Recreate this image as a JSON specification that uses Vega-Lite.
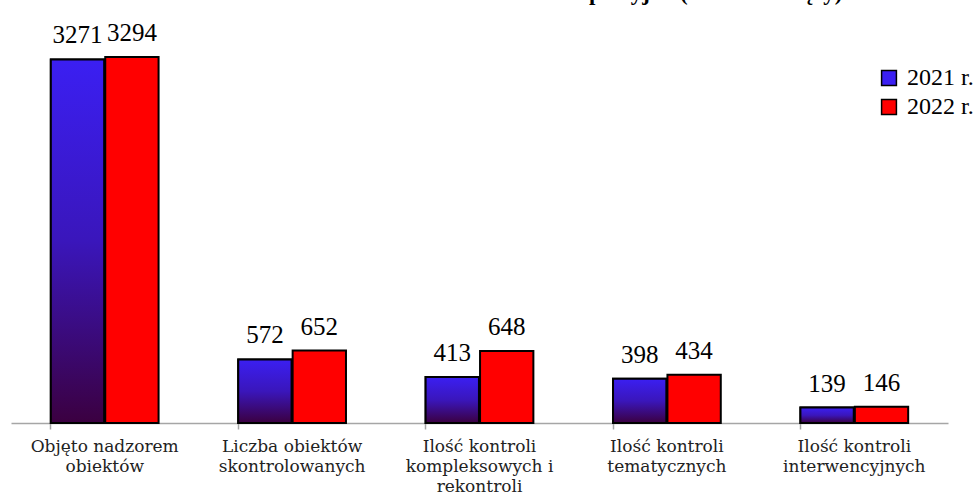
{
  "$schema": "https://vega.github.io/schema/vega-lite/v6.json",
  "autosize": {"type": "none"},
  "width": 937,
  "height": 389,
  "padding": {"left": 11, "right": 30, "top": 34, "bottom": 75},
  "background": "white",
  "config": {"view": {"stroke": null}},
  "title": {
    "text": "Działalność kontrolno-represyjna (nadzór bieżący)",
    "font": "Liberation Serif",
    "fontSize": 23,
    "fontWeight": "bold",
    "color": "black",
    "anchor": "middle",
    "baseline": "alphabetic",
    "offset": 0,
    "dx": 115,
    "dy": 2
  },
  "data": {
    "values": [
      {"category": "Objęto nadzorem|obiektów", "year": "2021 r.", "value": 3271},
      {"category": "Objęto nadzorem|obiektów", "year": "2022 r.", "value": 3294},
      {"category": "Liczba obiektów|skontrolowanych", "year": "2021 r.", "value": 572},
      {"category": "Liczba obiektów|skontrolowanych", "year": "2022 r.", "value": 652},
      {"category": "Ilość kontroli|kompleksowych i|rekontroli", "year": "2021 r.", "value": 413},
      {"category": "Ilość kontroli|kompleksowych i|rekontroli", "year": "2022 r.", "value": 648},
      {"category": "Ilość kontroli|tematycznych", "year": "2021 r.", "value": 398},
      {"category": "Ilość kontroli|tematycznych", "year": "2022 r.", "value": 434},
      {"category": "Ilość kontroli|interwencyjnych", "year": "2021 r.", "value": 139},
      {"category": "Ilość kontroli|interwencyjnych", "year": "2022 r.", "value": 146}
    ]
  },
  "encoding": {
    "x": {
      "field": "category",
      "type": "nominal",
      "sort": null,
      "scale": {"paddingInner": 0.425, "paddingOuter": 0.2125},
      "axis": {
        "title": null,
        "labelAngle": 0,
        "labelExpr": "split(datum.label, '|')",
        "labelFont": "DejaVu Serif",
        "labelFontSize": 17,
        "labelLineHeight": 20,
        "labelColor": "#222222",
        "labelPadding": 9,
        "labelLimit": 0,
        "domainColor": "#a6a6a6",
        "domainWidth": 1.5,
        "tickColor": "#a6a6a6",
        "tickSize": 6,
        "tickWidth": 1.5,
        "bandPosition": 0
      }
    },
    "xOffset": {"field": "year", "type": "nominal", "scale": {"domain": ["2021 r.", "2022 r."], "paddingInner": 0.02}},
    "y": {
      "field": "value",
      "type": "quantitative",
      "scale": {"domain": [0, 3500], "nice": false},
      "axis": null
    }
  },
  "layer": [
    {
      "mark": {"type": "bar", "stroke": "black", "strokeWidth": 2},
      "encoding": {
        "fill": {
          "field": "year",
          "type": "nominal",
          "scale": {"domain": ["2021 r.", "2022 r."], "range": ["#3b1ff2", "#ff0000"]},
          "legend": {
            "title": null,
            "orient": "none",
            "legendX": 866,
            "legendY": 32,
            "symbolType": "square",
            "symbolSize": 220,
            "symbolStrokeColor": "black",
            "symbolStrokeWidth": 1.5,
            "labelFont": "Liberation Serif",
            "labelFontSize": 24,
            "labelColor": "black",
            "labelOffset": 6,
            "rowPadding": 5,
            "symbolOpacity": 1
          }
        }
      }
    },
    {
      "transform": [{"filter": "datum.year == '2021 r.'"}],
      "mark": {"type": "bar", "stroke": "black", "strokeWidth": 2},
      "encoding": {
        "fill": {"value": {"gradient": "linear", "x1": 0, "y1": 0, "x2": 0, "y2": 1,
          "stops": [{"offset": 0, "color": "#3b1ff2"}, {"offset": 0.5, "color": "#3a16bb"}, {"offset": 1, "color": "#3b0040"}]}}
      }
    },
    {
      "mark": {"type": "text", "font": "Liberation Serif", "fontSize": 25, "color": "black", "baseline": "alphabetic", "dy": -16},
      "encoding": {
        "text": {"field": "value", "type": "quantitative"}
      }
    }
  ]
}
